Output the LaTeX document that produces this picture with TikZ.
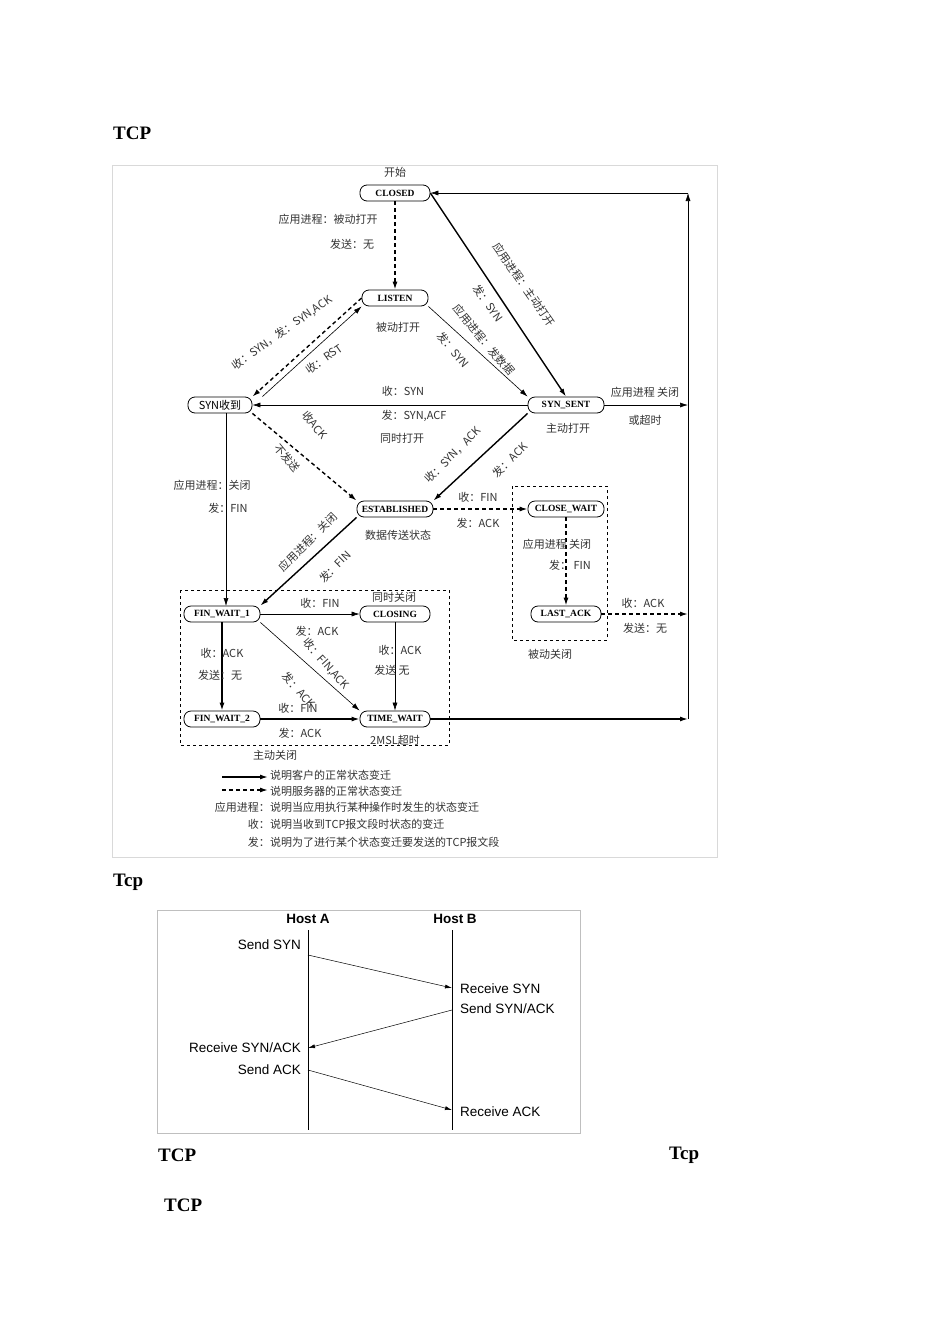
\documentclass[tikz,border=0pt]{standalone}
\usepackage{fontspec}
\setmainfont{Liberation Serif}
\newfontfamily\cjk{Noto Sans CJK SC}
\newfontfamily\hsans{Liberation Sans}
\usetikzlibrary{arrows.meta}
\begin{document}
\begin{tikzpicture}[x=1pt,y=-1pt,
 st/.style={draw,thick,rounded corners=7pt,minimum height=16pt,inner xsep=3pt,inner ysep=1pt,font=\fontsize{9.5}{10}\selectfont\bfseries,fill=white},
 lb/.style={font=\cjk\fontsize{11}{12}\selectfont,text=black!80,inner sep=0pt},
 thk/.style={line width=1.4pt,-{Latex[length=8pt,width=5pt]}},
 thn/.style={line width=0.6pt,-{Latex[length=8pt,width=5pt]}},
 dsh/.style={line width=1.4pt,dash pattern=on 4pt off 3pt,-{Latex[length=8pt,width=5pt]}},
 box/.style={draw,dashed,line width=0.6pt},
 hd/.style={font=\fontsize{19}{21}\selectfont\bfseries,anchor=west,inner sep=0pt},
 hs/.style={font=\hsans\fontsize{13.5}{15}\selectfont,inner sep=1pt}]
\useasboundingbox (0,0) rectangle (950,1344);
\fill[white] (0,0) rectangle (950,1344);
\draw[black!15] (112,165) rectangle (717,857);
% headings
\node[hd] (h1) at (113,133) {TCP};
\node[hd] (h2) at (113,882) {Tcp};
\node[hd] (h3) at (158,1155) {TCP};
\node[hd] (h4) at (669,1155) {Tcp};
\node[hd] (h5) at (164,1205) {TCP};
% boxes
\draw[box] (180,590) rectangle (449,745);
\draw[box] (512,486) rectangle (607,640);
% states
\node[st,minimum width=70pt] (CL) at (395,193) {CLOSED};
\node[st,minimum width=66pt] (LI) at (395,298) {LISTEN};
\node[st,minimum width=64pt,font=\cjk\fontsize{11}{12}\selectfont] (SR) at (220,405) {SYN收到};
\node[st,minimum width=76pt] (SS) at (566,405) {SYN\_SENT};
\node[st,minimum width=76pt] (ES) at (395,509) {ESTABLISHED};
\node[st,minimum width=76pt] (CW) at (566,509) {CLOSE\_WAIT};
\node[st,minimum width=70pt] (LA) at (566,614) {LAST\_ACK};
\node[st,minimum width=76pt] (F1) at (222,614) {FIN\_WAIT\_1};
\node[st,minimum width=70pt] (CG) at (395,614) {CLOSING};
\node[st,minimum width=76pt] (F2) at (222,719) {FIN\_WAIT\_2};
\node[st,minimum width=70pt] (TW) at (395,719) {TIME\_WAIT};
% right line
\coordinate (Rt) at (688,193);
\coordinate (Rs) at (688,405);
\coordinate (Rl) at (688,614);
\coordinate (Rb) at (688,719);
\draw[thk] (TW) -- (Rb);
\draw[thn] (Rb) -- (Rt);
\draw[thn] (Rt) -- (CL);
\draw[thn] (SS) -- (Rs);
\draw[dsh] (LA) -- (Rl);
% transitions
\draw[dsh] (CL) -- (LI);
\draw[thk] (CL.east) -- (SS.north);
\draw[thn] (LI.south east) -- (SS.north west);
\draw[dsh] (LI.west) -- (SR.north east);
\draw[thn] (SR.north east) ++(10,0) -- (LI.south west);
\draw[thn] (SS) -- (SR);
\draw[dsh] (SR.south east) -- (ES.north west);
\draw[thk] (SS.south west) -- (ES.north east);
\draw[dsh] (ES) -- (CW);
\draw[thn] (226,413) -- (226,606);
\draw[thk] (ES.south west) -- (F1.north east);
\draw[dsh] (CW) -- (LA);
\draw[thn] (F1) -- (CG);
\draw[thk] (F1) -- (F2);
\draw[thn] (F1.south east) -- (TW.north west);
\draw[thn] (CG) -- (TW);
\draw[thk] (F2) -- (TW);
% labels
\node[lb] (t1) at (395,172) {开始};
\node[lb] (t2) at (328,219) {应用进程：被动打开};
\node[lb] (t3) at (352,244) {发送：无};
\node[lb,rotate=-55] (t4) at (524,285) {应用进程：主动打开};
\node[lb,rotate=-55] (t5) at (488,303) {发：SYN};
\node[lb,rotate=-50] (t6) at (484,340) {应用进程：发数据};
\node[lb,rotate=-50] (t7) at (453,350) {发：SYN};
\node[lb] (t8) at (398,327) {被动打开};
\node[lb,rotate=35] (t9) at (282,333) {收：SYN，发：SYN,ACK};
\node[lb,rotate=35] (t10) at (324,359) {收：RST};
\node[lb] (t11) at (403,391) {收：SYN};
\node[lb] (t12) at (414,416) {发：SYN,ACF};
\node[lb] (t13) at (402,438) {同时打开};
\node[lb,rotate=-50] (t14) at (315,425) {收ACK};
\node[lb,rotate=-50] (t15) at (287,458) {不发送};
\node[lb,rotate=45] (t16) at (453,455) {收：SYN，ACK};
\node[lb,rotate=45] (t17) at (510,460) {发：ACK};
\node[lb] (t18) at (568,428) {主动打开};
\node[lb] (t19) at (645,392) {应用进程 关闭};
\node[lb] (t20) at (645,420) {或超时};
\node[lb] (t21) at (478,497) {收：FIN};
\node[lb] (t22) at (478,523) {发：ACK};
\node[lb] (t23) at (398,535) {数据传送状态};
\node[lb] (t24) at (212,485) {应用进程：关闭};
\node[lb] (t25) at (228,508) {发：FIN};
\node[lb,rotate=45] (t26) at (308,542) {应用进程：关闭};
\node[lb,rotate=45] (t27) at (335,567) {发：FIN};
\node[lb] (t28) at (557,544) {应用进程 关闭};
\node[lb] (t29) at (570,565) {发： FIN};
\node[lb] (t30) at (643,603) {收：ACK};
\node[lb] (t31) at (645,628) {发送：无};
\node[lb] (t32) at (550,654) {被动关闭};
\node[lb] (t33) at (320,603) {收：FIN};
\node[lb,fill=white] (t34) at (394,597) {同时关闭};
\node[lb] (t35) at (317,631) {发：ACK};
\node[lb] (t36) at (222,653) {收：ACK};
\node[lb] (t37) at (220,675) {发送：无};
\node[lb,rotate=-48] (t38) at (326,664) {收：FIN,ACK};
\node[lb,rotate=-48] (t39) at (299,690) {发：ACK};
\node[lb] (t40) at (400,650) {收：ACK};
\node[lb] (t41) at (392,670) {发送 无};
\node[lb] (t42) at (298,708) {收：FIN};
\node[lb] (t43) at (300,733) {发：ACK};
\node[lb] (t44) at (395,740) {2MSL超时};
\node[lb] (t45) at (275,755) {主动关闭};
% legend
\coordinate (L1a) at (222,777); \coordinate (L1b) at (268,777);
\coordinate (L2a) at (222,790); \coordinate (L2b) at (268,790);
\draw[thk] (L1a) -- (L1b);
\draw[dsh] (L2a) -- (L2b);
\node[lb,anchor=west] (g1) at (270,775) {说明客户的正常状态变迁};
\node[lb,anchor=west] (g2) at (270,791) {说明服务器的正常状态变迁};
\node[lb,anchor=east] (g3) at (270,807) {应用进程：};
\node[lb,anchor=west] (g4) at (270,807) {说明当应用执行某种操作时发生的状态变迁};
\node[lb,anchor=east] (g5) at (270,824) {收：};
\node[lb,anchor=west] (g6) at (270,824) {说明当收到TCP报文段时状态的变迁};
\node[lb,anchor=east] (g7) at (270,842) {发：};
\node[lb,anchor=west] (g8) at (270,842) {说明为了进行某个状态变迁要发送的TCP报文段};
% sequence diagram
\draw[black!25] (157,910) rectangle (580,1133);
\node[hs,font=\hsans\fontsize{13.5}{15}\selectfont\bfseries] (HA) at (308,919) {Host A};
\node[hs,font=\hsans\fontsize{13.5}{15}\selectfont\bfseries] (HB) at (455,919) {Host B};
\coordinate (A0) at (308,930); \coordinate (A9) at (308,1130);
\coordinate (B0) at (452,930); \coordinate (B9) at (452,1130);
\draw[line width=0.9pt] (A0) -- (A9);
\draw[line width=0.9pt] (B0) -- (B9);
\coordinate (a1) at (308,955); \coordinate (b1) at (452,988);
\coordinate (b2) at (452,1010); \coordinate (a2) at (308,1048);
\coordinate (a3) at (308,1070); \coordinate (b3) at (452,1110);
\draw[line width=0.5pt,-{Latex[length=7pt,width=4pt]}] (a1) -- (b1);
\draw[line width=0.5pt,-{Latex[length=7pt,width=4pt]}] (b2) -- (a2);
\draw[line width=0.5pt,-{Latex[length=7pt,width=4pt]}] (a3) -- (b3);
\node[hs,anchor=east] (s1) at (302,945) {Send SYN};
\node[hs,anchor=west] (s2) at (459,989) {Receive SYN};
\node[hs,anchor=west] (s3) at (459,1009) {Send SYN/ACK};
\node[hs,anchor=east] (s4) at (302,1048) {Receive SYN/ACK};
\node[hs,anchor=east] (s5) at (302,1070) {Send ACK};
\node[hs,anchor=west] (s6) at (459,1112) {Receive ACK};
\end{tikzpicture}
\end{document}
